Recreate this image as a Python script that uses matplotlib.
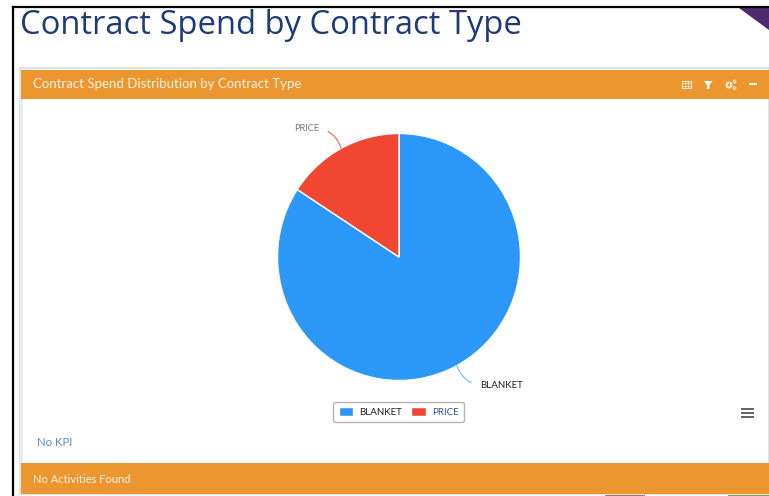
import numpy as np
import matplotlib
matplotlib.use("Agg")
import matplotlib.pyplot as plt
from matplotlib.patches import Rectangle, Polygon, Circle

plt.rcParams['font.family'] = ['Lato', 'DejaVu Sans']

W, H = 769, 496

contract_types = ['BLANKET', 'PRICE']
spend_share = [84.2, 15.8]
slice_colors = ['#2B98F7', '#F04632']
label_offsets = [(17, -14.2), (-16, 14.5)]

page_title = 'Contract Spend by Contract Type'
panel_title = 'Contract Spend Distribution by Contract Type'
kpi_text = 'No KPI'
activities_text = 'No Activities Found'

ORANGE = '#EC9630'

fig = plt.figure(figsize=(W / 100, H / 100), dpi=100, facecolor='white')

# page furniture is drawn on a full-size axes in pixel units
bg = fig.add_axes([0, 0, 1, 1])
bg.set_xlim(0, W)
bg.set_ylim(H, 0)
bg.axis('off')

bg.plot([13, W], [7, 7], color='black', lw=1.6)
bg.plot([13, 13], [7, H], color='black', lw=1.6)
bg.add_patch(Polygon([(739, 8), (W, 8), (W, 30)], color='#4F2A6F', lw=0))
bg.text(19.5, 34.5, page_title, fontsize=23.55, family=['Open Sans', 'DejaVu Sans'],
        color='#1F3A78', va='baseline', ha='left')

# panel
bg.add_patch(Rectangle((20, 68), W - 20, 426, fc='white', ec='#DADDDF', lw=1.2))
bg.add_patch(Rectangle((20, 99), 2.5, 364, fc='#E6ECF1', lw=0))
bg.add_patch(Rectangle((21, 70), W - 21, 29, fc=ORANGE, lw=0))
bg.add_patch(Rectangle((21, 463), W - 21, 31, fc=ORANGE, lw=0))
bg.add_patch(Rectangle((605, 494.5), 40, 1.5, fc='#B5764F', lw=0))
bg.add_patch(Rectangle((728, 494.5), 41, 1.5, fc='#8FA146', lw=0))
bg.text(33, 84.5, panel_title, fontsize=9.5, color='#FDF3E4', va='center', ha='left')
bg.text(33, 479.5, activities_text, fontsize=8.05, color='#FDF3E4', va='center', ha='left')
bg.text(37, 442, kpi_text, fontsize=8.2, color='#5F8BBB', va='center', ha='left')

# header icons: table, filter, gears, collapse
ICON = '#FBEBD6'
bg.add_patch(Rectangle((681.5, 80.5), 9, 7.5, fc='none', ec=ICON, lw=0.8))
for x in [684.5, 687.5]:
    bg.plot([x, x], [80.5, 88], color=ICON, lw=0.5)
for y in [83, 85.5]:
    bg.plot([681.5, 690.5], [y, y], color=ICON, lw=0.5)
bg.add_patch(Polygon([(704, 81), (712.5, 81), (709.5, 85), (709.5, 89), (707, 89), (707, 85)],
                     fc='white', lw=0))
bg.add_patch(Circle((729, 85), 2.4, fc='none', ec=ICON, lw=1.5))
bg.add_patch(Circle((734.5, 81.5), 1.3, fc='none', ec=ICON, lw=0.8))
bg.add_patch(Circle((734.5, 88), 1.3, fc='none', ec=ICON, lw=0.8))
bg.add_patch(Rectangle((749, 83), 8, 2, fc='white', lw=0))

# export menu
for y in [409, 413, 417]:
    bg.add_patch(Rectangle((741, y - 1), 13, 2, fc='#666666', lw=0))

# pie, slightly taller than wide as displayed on the page
cx, cy, rx, ry = 399, 257, 121.5, 123.5
ax = fig.add_axes([(cx - rx) / W, 1 - (cy + ry) / H, 2 * rx / W, 2 * ry / H])
wedges, _ = ax.pie(spend_share, colors=slice_colors, startangle=90, counterclock=False,
                   radius=1, wedgeprops=dict(edgecolor='white', linewidth=1))
ax.set_aspect('auto')
ax.set_xlim(-1, 1)
ax.set_ylim(-1, 1)

text_colors = ['#222222', '#777777']
leader_colors = ['#7FBFF5', '#F0705F']
relpos = [(0, 0.5), (1, 0.5)]
for i, w in enumerate(wedges):
    mid = np.deg2rad((w.theta1 + w.theta2) / 2)
    ax.annotate(contract_types[i], xy=(np.cos(mid), np.sin(mid)), xycoords='data',
                xytext=label_offsets[i], textcoords='offset points',
                fontsize=6.6 if i == 1 else 7, color=text_colors[i], va='center',
                ha='left' if i == 0 else 'right',
                arrowprops=dict(arrowstyle='-', color=leader_colors[i], lw=0.9,
                                connectionstyle='arc3,rad=-0.3',
                                relpos=relpos[i], shrinkA=5, shrinkB=0))

leg = ax.legend(wedges, contract_types, loc='center',
                bbox_to_anchor=(398.5 / W, 1 - 412 / H), bbox_transform=fig.transFigure,
                ncol=2, fontsize=7, frameon=True, fancybox=True, edgecolor='#B5B5B5',
                handlelength=1.5, handleheight=1.0, handletextpad=0.6, columnspacing=1.0,
                borderpad=0.55, framealpha=1)
leg.get_frame().set_linewidth(1)
leg.get_texts()[0].set_color('#222222')
leg.get_texts()[1].set_color('#34558B')

fig.savefig('out.png', dpi=100)
